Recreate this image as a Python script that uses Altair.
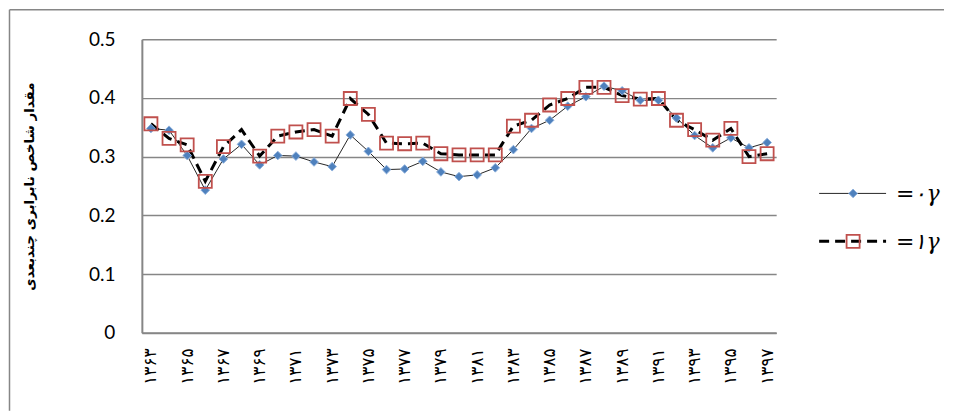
import altair as alt
import pandas as pd

# years 1363..1397 (solar hijri), one value per year for each series
years = list(range(1363, 1398))
gamma0 = [0.348, 0.345, 0.302, 0.243, 0.296, 0.321, 0.286, 0.302, 0.301, 0.291,
          0.283, 0.337, 0.309, 0.278, 0.279, 0.292, 0.274, 0.266, 0.269, 0.281,
          0.312, 0.348, 0.362, 0.386, 0.402, 0.420, 0.412, 0.396, 0.396, 0.366,
          0.336, 0.315, 0.332, 0.315, 0.324]
gamma1 = [0.356, 0.331, 0.320, 0.258, 0.317, 0.346, 0.301, 0.335, 0.342, 0.346,
          0.335, 0.399, 0.372, 0.323, 0.322, 0.323, 0.305, 0.303, 0.303, 0.303,
          0.352, 0.362, 0.388, 0.399, 0.418, 0.418, 0.404, 0.398, 0.399, 0.362,
          0.346, 0.328, 0.348, 0.300, 0.305]
series_names = ['=۰γ', '=۱γ']
y_ticks = [0, 0.1, 0.2, 0.3, 0.4, 0.5]
y_title = 'مقدار شاخص نابرابری چندبعدی'

fa = str.maketrans('0123456789', '۰۱۲۳۴۵۶۷۸۹')
years_fa = [str(y).translate(fa) for y in years]
label_years = years_fa[::2]
no_marker_year = '1368'.translate(fa)  # the red square is missing here in the source

df = pd.DataFrame({
    'year': years_fa * 2,
    'value': gamma0 + gamma1,
    'series': [series_names[0]] * len(years) + [series_names[1]] * len(years),
})
legend_df = pd.DataFrame({'label': series_names})

x_enc = alt.X('year:O', sort=years_fa, title=None,
              axis=alt.Axis(values=label_years, labelAngle=270, labelFont='DejaVu Sans',
                            labelFontSize=17, labelColor='black', labelPadding=15,
                            ticks=False, tickSize=0, domainColor='#868686', domainWidth=2,
                            grid=False))
y_enc = alt.Y('value:Q', title=y_title, scale=alt.Scale(domain=[0, 0.5]),
              axis=alt.Axis(values=y_ticks, format='.1~f', labelFont='Lato', labelFontSize=19,
                            labelColor='black', labelPadding=27, ticks=False, tickSize=0,
                            domainColor='#868686', domainWidth=2,
                            gridColor='#868686', gridWidth=1.4,
                            titleFont='DejaVu Sans', titleFontSize=13.5, titleFontWeight='bold',
                            titleColor='black', titleX=-112, titleBaseline='middle'))

base = alt.Chart(df).encode(x=x_enc, y=y_enc)

diamond = dict(shape='diamond', filled=True, fill='#4F81BD', stroke='#8DB0DC',
               strokeWidth=1, size=75, opacity=1)
square = dict(shape='square', filled=False, color='#C0504D', strokeWidth=1.8,
              size=170, opacity=1)

line0 = base.transform_filter(alt.datum.series == series_names[0]).mark_line(
    color='#262626', strokeWidth=1)
pts0 = base.transform_filter(alt.datum.series == series_names[0]).mark_point(**diamond)
line1 = base.transform_filter(alt.datum.series == series_names[1]).mark_line(
    color='black', strokeWidth=3, strokeDash=[10, 6])
pts1 = base.transform_filter(
    (alt.datum.series == series_names[1]) & (alt.datum.year != no_marker_year)
).mark_point(**square)

# hand-built legend: line with the marker in the middle, like the source
legend_layers = []
styles = [
    dict(rule=dict(color='#262626', strokeWidth=1), point=diamond),
    dict(rule=dict(color='black', strokeWidth=3, strokeDash=[10, 6]), point=square),
]
for i, name in enumerate(series_names):
    yy = 154.4 + 48 * i
    entry = alt.Chart(legend_df).transform_filter(alt.datum.label == name)
    legend_layers.append(entry.mark_rule(**styles[i]['rule']).encode(
        x=alt.value(678), x2=alt.value(745), y=alt.value(yy)))
    legend_layers.append(entry.mark_point(**styles[i]['point']).encode(
        x=alt.value(712), y=alt.value(yy)))
    legend_layers.append(entry.mark_text(
        align='left', baseline='middle', font='DejaVu Serif', fontSize=22,
        fontStyle='italic', color='black').encode(
        x=alt.value(755), y=alt.value(yy + 1), text='label:N'))

# outer chart frame (top and left edges are visible in the source)
frame_df = pd.DataFrame({'k': [0]})
frame_top = alt.Chart(frame_df).mark_rule(color='#868686', strokeWidth=1.5).encode(
    x=alt.value(-132.5), x2=alt.value(803), y=alt.value(-29.5))
frame_left = alt.Chart(frame_df).mark_rule(color='#868686', strokeWidth=1.5).encode(
    x=alt.value(-132.5), y=alt.value(-29.5), y2=alt.value(372))

chart = alt.layer(
    line0, line1, pts0, pts1, *legend_layers, frame_top, frame_left
).properties(
    width=635,
    height=294,
    padding=0,
).configure_view(stroke=None)

chart.save('out.html', embed_options={'renderer': 'svg', 'actions': False})
